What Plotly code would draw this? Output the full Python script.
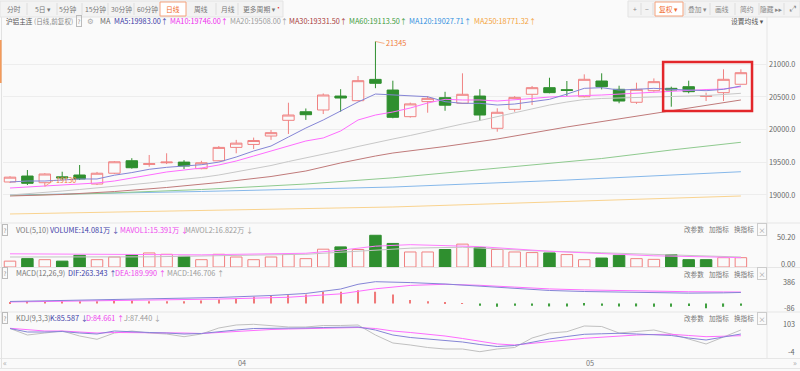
import plotly.graph_objects as go

W, H = 800, 371
FONT = "Noto Sans CJK SC, Noto Sans, DejaVu Sans, sans-serif"
BG = "#fafafa"
UP = "#f08282"
DOWN = "#2f8f2f"

# ---------------- data ----------------
idx = list(range(43))
opens = [19196, 19287, 19185, 19275, 19303, 19165, 19330, 19521, 19465, 19490, 19500, 19400, 19520,
         19725, 19770, 19899, 20139, 20270, 20297, 20510, 20439, 20765, 20602, 20195, 20425, 20485,
         20400, 20510, 20017, 20307, 20537, 20638, 20607, 20500, 20740, 20613, 20415, 20592, 20628,
         20653, 20505, 20562, 20690]
highs = [19285, 19379, 19330, 19353, 19456, 19350, 19515, 19560, 19609, 19635, 19530, 19520, 19746,
         19840, 19875, 19990, 20408, 20320, 20550, 20615, 20817, 21345, 20745, 20410, 20510, 20575,
         20858, 20615, 20323, 20510, 20664, 20790, 20740, 20842, 20858, 20668, 20714, 20780, 20653,
         20745, 20562, 20919, 20919]
lows = [19180, 19150, 19130, 19230, 19226, 19150, 19320, 19400, 19430, 19470, 19395, 19390, 19517,
        19635, 19700, 19840, 19930, 20145, 20235, 20270, 20430, 20630, 20170, 20180, 20255, 20285,
        20390, 20130, 19965, 20270, 20373, 20552, 20510, 20490, 20612, 20400, 20390, 20577, 20347,
        20552, 20434, 20434, 20690]
closes = [19270, 19176, 19318, 19260, 19242, 19330, 19505, 19414, 19475, 19500, 19440, 19490, 19725,
          19790, 19830, 19950, 20220, 20225, 20526, 20480, 20745, 20705, 20185, 20390, 20475, 20370,
          20537, 20220, 20262, 20490, 20638, 20562, 20597, 20766, 20653, 20434, 20613, 20730, 20602,
          20577, 20512, 20766, 20867]

ma5 = [19196, 19211, 19211, 19226, 19242, 19242, 19300, 19340, 19390, 19420, 19440, 19460, 19500,
       19578, 19670, 19746, 19884, 20021, 20144, 20281, 20419, 20541, 20526, 20520, 20500, 20424,
       20399, 20399, 20373, 20388, 20424, 20460, 20540, 20628, 20638, 20602, 20613, 20628, 20613,
       20602, 20592, 20613, 20664]
ma10 = [19104, 19119, 19135, 19150, 19165, 19181, 19211, 19257, 19303, 19349, 19379, 19410, 19456,
        19517, 19593, 19670, 19746, 19823, 19869, 19976, 20144, 20220, 20266, 20327, 20404, 20460,
        20450, 20450, 20434, 20450, 20473, 20495, 20511, 20518, 20526, 20541, 20552, 20576, 20587,
        20602, 20610, 20618, 20653]
ma20 = [18997, 19015, 19035, 19058, 19081, 19104, 19127, 19150, 19181, 19211, 19234, 19265, 19303,
        19349, 19395, 19448, 19509, 19563, 19624, 19677, 19739, 19800, 19853, 19907, 19968, 20021,
        20083, 20136, 20197, 20251, 20312, 20373, 20419, 20457, 20473, 20480, 20491, 20495, 20503,
        20511, 20518, 20534, 20552]
ma30_idx = [0, 3, 6, 9, 12, 15, 17, 19, 21, 22, 25, 28, 32, 36, 40, 42]
ma30 = [18982, 19005, 19050, 19112, 19188, 19280, 19364, 19487, 19593, 19639, 19739, 19853, 20037,
        20205, 20365, 20450]
ma60_idx = [0, 5, 11, 17, 22, 28, 34, 38, 42]
ma60 = [18989, 19020, 19081, 19165, 19260, 19402, 19555, 19685, 19803]
ma120_idx = [0, 11, 22, 32, 42]
ma120 = [18997, 19051, 19119, 19226, 19353]
ma250_idx = [0, 22, 42]
ma250 = [18707, 18814, 18982]

volume = [9.7, 13.8, 12.1, 9.7, 19.3, 12.1, 16.5, 20.5, 23.2, 21.0, 17.6, 12.1, 21.0, 16.5, 12.1,
          16.5, 21.0, 13.8, 29.4, 33.2, 28.9, 52.4, 38.9, 24.8, 24.8, 28.9, 37.8, 32.2, 28.9, 24.8,
          23.8, 23.2, 20.5, 12.1, 14.8, 19.3, 13.8, 12.6, 20.5, 12.1, 12.1, 15.4, 15.4]
mavol1_idx = [0, 5, 11, 17, 19, 21, 23, 25, 27, 31, 34, 37, 40, 42]
mavol1 = [21.8, 21.0, 20.1, 22.7, 27.7, 34.4, 36.9, 35.3, 33.6, 26.0, 21.8, 18.5, 16.8, 15.4]
mavol2_idx = [0, 8, 17, 21, 23, 26, 30, 34, 39, 42]
mavol2 = [16.5, 16.8, 21.0, 27.7, 31.1, 32.7, 26.9, 23.5, 19.3, 16.5]

dif_idx = [0, 3, 6, 9, 12, 15, 17, 19, 20, 21, 22, 23, 25, 27, 29, 31, 33, 35, 37, 39, 41, 42]
dif = [35, 52, 70, 88, 106, 141, 177, 256, 340, 386, 380, 370, 345, 310, 265, 230, 212, 200, 190,
       183, 188, 195]
dea_idx = [0, 6, 12, 16, 19, 21, 23, 25, 27, 29, 31, 33, 35, 37, 39, 41, 42]
dea = [26, 50, 78, 110, 170, 260, 320, 340, 322, 290, 258, 240, 225, 215, 208, 204, 202]
macd_hist = [27, 41, 41, 41, 41, 41, 71, 53, 41, 41, 41, 53, 71, 89, 119, 137, 147, 160, 208, 208,
             236, 208, 160, 59, 41, 18, 5, -41, -59, -41, -41, -53, -53, -35, -41, -53, -53, -59,
             -59, -44, -86, -59, -41]

kdj_k = [86.6, 72.9, 72.9, 74.9, 69.0, 65.1, 76.8, 72.9, 71.0, 69.0, 65.1, 67.1, 74.9, 80.7, 86.6,
         86.6, 86.6, 88.6, 90.5, 92.5, 92.5, 80.7, 61.2, 51.5, 45.6, 41.7, 33.9, 24.1, 16.3, 20.2,
         33.9, 45.6, 55.4, 64.0, 66.0, 67.9, 65.1, 62.4, 59.3, 49.5, 41.7, 53.4, 65.1]
kdj_d = [87.4, 80.7, 76.8, 76.8, 72.9, 69.0, 71.0, 71.0, 71.0, 71.0, 69.0, 67.1, 71.0, 74.9, 80.7,
         82.7, 84.6, 86.6, 88.6, 90.5, 90.5, 86.6, 76.8, 71.0, 65.1, 57.3, 47.6, 37.8, 26.1, 22.2,
         28.0, 35.8, 41.7, 48.3, 53.4, 57.3, 61.2, 63.2, 64.0, 59.3, 54.6, 56.5, 58.5]
kdj_j = [86.6, 61.2, 69.0, 76.8, 57.3, 44.4, 69.0, 76.8, 69.0, 65.1, 54.6, 65.1, 88.6, 100.3, 103.0,
         96.4, 92.5, 92.5, 98.3, 98.3, 100.3, 61.2, 30.0, 22.2, 12.4, 6.5, 6.5, -4.0, 6.5, 12.4,
         49.5, 69.0, 74.1, 96.4, 94.4, 69.0, 74.9, 80.7, 65.1, 45.6, 26.1, 53.4, 80.7]

price_ticks = [19000, 19500, 20000, 20500, 21000]
vol_ticks = [50.20, 0.00]
macd_ticks = [386, -86]
kdj_ticks = [103, -4]
month_labels = ["04", "05"]
month_idx = [13, 33]
highlight_first, highlight_last = 38, 42
highlight_low, highlight_high = 20281, 21031

# ---------------- helpers ----------------
def py(p):
    return 1 - p / H


def px(p):
    return p / W


def txt(x, y, s, color, size=7.5, anchor="left", fam=FONT, **kw):
    return dict(x=px(x), y=py(y), xref="paper", yref="paper", text=s, showarrow=False,
                xanchor=anchor, yanchor="middle", font=dict(family=fam, size=size, color=color), **kw)


def rect(x0, y0, x1, y1, fill, line, lw=1, layer="below"):
    return dict(type="rect", xref="paper", yref="paper", x0=px(x0), x1=px(x1), y0=py(y1), y1=py(y0),
                fillcolor=fill, line=dict(color=line, width=lw), layer=layer)


def line(x0, y0, x1, y1, color, lw=1):
    return dict(type="line", xref="paper", yref="paper", x0=px(x0), x1=px(x1), y0=py(y0), y1=py(y1),
                line=dict(color=color, width=lw), layer="below")


fig = go.Figure()

# main candles
fig.add_trace(go.Candlestick(
    x=idx, open=opens, high=highs, low=lows, close=closes,
    increasing=dict(line=dict(color=UP, width=1), fillcolor=BG),
    decreasing=dict(line=dict(color=DOWN, width=1), fillcolor=DOWN),
    whiskerwidth=0, hoverinfo="skip", xaxis="x", yaxis="y", showlegend=False))

lines_main = [
    (ma250_idx, ma250, "#f9d38f"),
    (ma120_idx, ma120, "#86b8ea"),
    (ma60_idx, ma60, "#8fca8f"),
    (ma30_idx, ma30, "#c07a7a"),
    (idx, ma20, "#c8c8c8"),
    (idx, ma10, "#ff6cff"),
    (idx, ma5, "#8585d6"),
]
for xs, ys, col in lines_main:
    fig.add_trace(go.Scatter(x=xs, y=ys, mode="lines", line=dict(color=col, width=1),
                             hoverinfo="skip", showlegend=False, xaxis="x", yaxis="y"))

# volume
vol_up = [closes[0] >= opens[0]] + [closes[i] >= closes[i - 1] for i in range(1, len(closes))]
fig.add_trace(go.Bar(
    x=idx, y=volume, width=0.66,
    marker=dict(color=[BG if u else DOWN for u in vol_up],
                line=dict(color=[UP if u else DOWN for u in vol_up], width=1)),
    hoverinfo="skip", showlegend=False, xaxis="x", yaxis="y2"))
fig.add_trace(go.Scatter(x=mavol2_idx, y=mavol2, mode="lines", line=dict(color="#c4c4c4", width=1),
                         hoverinfo="skip", showlegend=False, xaxis="x", yaxis="y2"))
fig.add_trace(go.Scatter(x=mavol1_idx, y=mavol1, mode="lines", line=dict(color="#ff7cff", width=1),
                         hoverinfo="skip", showlegend=False, xaxis="x", yaxis="y2"))

# MACD
fig.add_trace(go.Bar(
    x=idx, y=macd_hist, width=0.07,
    marker=dict(color=["#f07a7a" if v > 0 else "#3f9f3f" for v in macd_hist], line=dict(width=0)),
    hoverinfo="skip", showlegend=False, xaxis="x", yaxis="y3"))
fig.add_trace(go.Scatter(x=dea_idx, y=dea, mode="lines", line=dict(color="#ff6cff", width=1),
                         hoverinfo="skip", showlegend=False, xaxis="x", yaxis="y3"))
fig.add_trace(go.Scatter(x=dif_idx, y=dif, mode="lines", line=dict(color="#8585d6", width=1),
                         hoverinfo="skip", showlegend=False, xaxis="x", yaxis="y3"))

# KDJ
fig.add_trace(go.Scatter(x=idx, y=kdj_j, mode="lines", line=dict(color="#c0c0c0", width=1),
                         hoverinfo="skip", showlegend=False, xaxis="x", yaxis="y4"))
fig.add_trace(go.Scatter(x=idx, y=kdj_d, mode="lines", line=dict(color="#ff6cff", width=1),
                         hoverinfo="skip", showlegend=False, xaxis="x", yaxis="y4"))
fig.add_trace(go.Scatter(x=idx, y=kdj_k, mode="lines", line=dict(color="#8585d6", width=1),
                         hoverinfo="skip", showlegend=False, xaxis="x", yaxis="y4"))

ann = []
shapes = []

# panels / separators
shapes.append(line(0, 223, 800, 223, "#e6e6e6"))
shapes.append(line(0, 267.5, 800, 267.5, "#e6e6e6"))
shapes.append(line(0, 312, 800, 312, "#e6e6e6"))
shapes.append(line(0, 358.5, 800, 358.5, "#e6e6e6"))
shapes.append(line(0, 368.5, 800, 368.5, "#e6e6e6"))
shapes.append(line(767, 17, 767, 358.5, "#e6e6e6"))
shapes.append(line(1.5, 17, 1.5, 368, "#e2e2e2"))
shapes.append(rect(0, 40, 1.6, 83, "#f39a5a", "#f39a5a", 0))

# toolbar left
shapes.append(rect(0, 1, 283, 17, "#f3f3f3", "#e3e3e3"))
for sx in [27, 57, 82, 108, 134, 216, 238]:
    shapes.append(line(sx, 3, sx, 15, "#dddddd"))
shapes.append(rect(160, 2, 186, 16, "#ffffff", "#f4a27c"))
for label, cx in [("分时", 14), ("5日 ▾", 43), ("5分钟", 68), ("15分钟", 95), ("30分钟", 121),
                  ("60分钟", 147), ("周线", 201), ("月线", 228), ("更多周期 ▾", 259)]:
    ann.append(txt(cx, 9, label, "#777777", 6.8, "center"))
ann.append(txt(173, 9, "日线", "#f0692b", 6.8, "center"))
ann.append(txt(278, 6.5, "•", "#e8312f", 7, "center"))

# toolbar right
shapes.append(rect(628, 1, 800, 17, "#f3f3f3", "#e3e3e3"))
for sx in [641, 653, 685, 710, 735, 759, 784]:
    shapes.append(line(sx, 3, sx, 15, "#dddddd"))
shapes.append(rect(655, 2, 683, 16, "#ffffff", "#f4a27c"))
for label, cx in [("+", 635), ("−", 647), ("叠加 ▾", 697), ("画线", 722), ("简约", 747),
                  ("隐藏 ▸▸", 771)]:
    ann.append(txt(cx, 9, label, "#888888", 6.8, "center"))
ann.append(txt(668, 9, "复权 ▾", "#f0692b", 6.8, "center"))
ann.append(txt(792, 9, "⤢", "#888888", 8, "center", fam="DejaVu Sans"))

# header row
ann.append(txt(4, 21.5, "沪铝主连", "#555555", 6.6))
ann.append(txt(32, 21.5, "(日线,前复权)", "#888888", 6.6))
ann.append(txt(79, 21.5, "?", "#888888", 6, "center", bordercolor="#bbbbbb", borderwidth=1, borderpad=0.5))
ann.append(txt(90, 21.5, "⚙", "#aaaaaa", 7.5, "center", fam="DejaVu Sans"))
ann.append(txt(98, 21.5, "MA", "#666666", 7.3))
for s, x0, col in [("MA5:19983.00↑", 112, "#3a3aa6"), ("MA10:19746.00↑", 168, "#ee2cee"),
                   ("MA20:19508.00↑", 228, "#9a9a9a"), ("MA30:19331.50↑", 287, "#a83a3a"),
                   ("MA60:19113.50↑", 347, "#3c9a3c"), ("MA120:19027.71↑", 407, "#2f8fe0"),
                   ("MA250:18771.32↑", 472, "#f4a33a")]:
    ann.append(txt(x0, 21.5, s, col, 7.3))
ann.append(txt(729, 21.5, "设置均线 ▾", "#555555", 6.8))

# sub-panel headers
def qbox(y):
    return txt(5, y, "?", "#888888", 6, "center", bordercolor="#bbbbbb", borderwidth=1, borderpad=0.5)


ann.append(qbox(230))
ann.append(txt(14, 230, "VOL(5,10)", "#777777", 7.3))
ann.append(txt(48, 230, "VOLUME:14.081万 ↓", "#4040a8", 7.3))
ann.append(txt(118, 230, "MAVOL1:15.391万 ↓", "#ee44ee", 7.3))
ann.append(txt(183, 230, "MAVOL2:16.822万 ↓", "#9a9a9a", 7.3))

ann.append(qbox(273))
ann.append(txt(14, 273, "MACD(12,26,9)", "#777777", 7.3))
ann.append(txt(66, 273, "DIF:263.343 ↑", "#4040a8", 7.3))
ann.append(txt(113, 273, "DEA:189.990 ↑", "#ee44ee", 7.3))
ann.append(txt(165, 273, "MACD:146.706 ↑", "#9a9a9a", 7.3))

ann.append(qbox(318))
ann.append(txt(14, 318, "KDJ(9,3,3)", "#777777", 7.3))
ann.append(txt(48, 318, "K:85.587 ↓", "#4040a8", 7.3))
ann.append(txt(84, 318, "D:84.661 ↑", "#ee44ee", 7.3))
ann.append(txt(122, 318, "J:87.440 ↓", "#9a9a9a", 7.3))

for yy in [229.5, 273.5, 318]:
    ann.append(txt(682, yy, "改参数", "#777777", 6.6))
    ann.append(txt(707, yy, "加指标", "#777777", 6.6))
    ann.append(txt(732, yy, "换指标", "#777777", 6.6))
    ann.append(txt(762, yy, "×", "#999999", 7, "center", bordercolor="#cccccc", borderwidth=1,
                   borderpad=0.5))

# right axis labels
for v in price_ticks:
    ann.append(dict(x=px(797), xref="paper", y=v, yref="y", text=f"{v:.1f}", showarrow=False,
                    xanchor="right", yanchor="middle", font=dict(family=FONT, size=7.3, color="#666666")))
for v, ys in zip(vol_ticks, [0, 3.5]):
    ann.append(dict(x=px(797), xref="paper", y=v, yref="y2", text=f"{v:.2f}", showarrow=False,
                    xanchor="right", yanchor="middle", yshift=ys,
                    font=dict(family=FONT, size=7.3, color="#666666")))
for v in macd_ticks:
    ann.append(dict(x=px(797), xref="paper", y=v, yref="y3", text=f"{v}", showarrow=False,
                    xanchor="right", yanchor="middle", font=dict(family=FONT, size=7.3, color="#666666")))
for v in kdj_ticks:
    ann.append(dict(x=px(797), xref="paper", y=v, yref="y4", text=f"{v}", showarrow=False,
                    xanchor="right", yanchor="middle", font=dict(family=FONT, size=7.3, color="#666666")))

# date axis
for lab, i in zip(month_labels, month_idx):
    ann.append(dict(x=i, xref="x", y=py(363), yref="paper", text=lab, showarrow=False,
                    xanchor="left", yanchor="middle", font=dict(family=FONT, size=7.3, color="#777777")))
ann.append(txt(5, 362.5, "«", "#aaaaaa", 8, "center"))
ann.append(txt(795, 362.5, "»", "#aaaaaa", 8, "center"))

# extreme labels
imax = highs.index(max(highs))
imin = lows.index(min(lows))
ann.append(dict(x=imax, y=highs[imax], xref="x", yref="y", text=str(highs[imax]), showarrow=True,
                arrowhead=0, arrowwidth=0.8, arrowcolor="#f29a6a", ax=9, ay=2, xanchor="left",
                font=dict(family=FONT, size=7.3, color="#f07a3a"), standoff=0))
ann.append(dict(x=imin, y=lows[imin], xref="x", yref="y", text=str(lows[imin]), showarrow=True,
                arrowhead=0, arrowwidth=0.8, arrowcolor="#f29a6a", ax=9, ay=-6, xanchor="left",
                font=dict(family=FONT, size=7.3, color="#f07a3a"), standoff=0))

# highlight box
shapes.append(dict(type="rect", xref="x", yref="y", x0=highlight_first - 0.47, x1=highlight_last + 0.64,
                   y0=highlight_low, y1=highlight_high, line=dict(color="#e3262a", width=2.5),
                   fillcolor="rgba(0,0,0,0)", layer="above"))

fig.update_layout(
    width=W, height=H, margin=dict(l=0, r=0, t=0, b=0),
    paper_bgcolor=BG, plot_bgcolor=BG,
    showlegend=False, hovermode=False,
    boxgap=0.06, boxgroupgap=0.3,
    xaxis=dict(domain=[px(3), px(767)], range=[-0.402, 43.5], visible=False,
               rangeslider=dict(visible=False), fixedrange=True),
    yaxis=dict(domain=[py(223), py(30)], range=[18569, 21520], anchor="x", showgrid=True,
               gridcolor="#ededed", gridwidth=1, tickvals=price_ticks, showticklabels=False,
               zeroline=False, showline=False, ticks=""),
    yaxis2=dict(domain=[py(267), py(232)], range=[0, 57.8], anchor="x", visible=False),
    yaxis3=dict(domain=[py(311), py(276)], range=[-134, 487], anchor="x", visible=False),
    yaxis4=dict(domain=[py(358), py(318)], range=[-28.6, 127.6], anchor="x", visible=False),
    annotations=ann, shapes=shapes,
)

fig.write_html(
    "out.html",
    config={"displayModeBar": False},
    post_script="document.body.style.margin='0';document.body.style.padding='0';"
                "document.body.style.overflow='hidden';",
)
